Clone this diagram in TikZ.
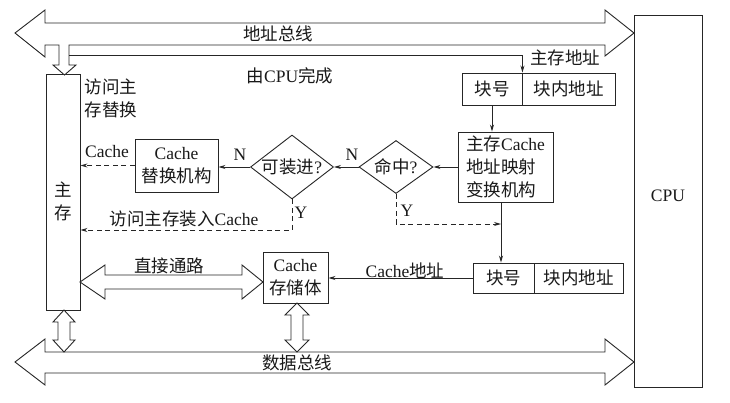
\documentclass[tikz,border=0pt]{standalone}
\usepackage{fontspec}
\setmainfont{Liberation Serif}
\newfontfamily\cjk{Noto Sans CJK SC}
\newcommand\zh[1]{{\cjk #1}}
\usetikzlibrary{arrows.meta,shapes.geometric}
\tikzset{
  ln/.style={line width=0.9pt, draw=black!85},
  box/.style={ln, rectangle, inner sep=0pt},
  dia/.style={ln, diamond, inner sep=0pt},
  txt/.style={font=\fontsize{17.5}{23}\selectfont, text=black!90, inner sep=0pt, align=center},
  arr/.style={ln, -{Stealth[length=7pt,width=4pt]}},
  dsh/.style={arr, dash pattern=on 5pt off 3.5pt},
  hollow/.style={ln, fill=white, line join=miter},
}
\begin{document}
\begin{tikzpicture}[x=1pt,y=-1pt]
\useasboundingbox (0,0) rectangle (730,402);
\fill[white] (0,0) rectangle (730,402);

% nodes
\node[box, minimum width=34pt, minimum height=236pt] (mem) at (63,192) {};
\node[txt] (memt) at (63,201) {\zh{主}\\\zh{存}};
\node[box, minimum width=68pt, minimum height=372pt] (cpu) at (668,201) {};
\node[txt] (cput) at (668,196) {CPU};

\node[box, txt, minimum width=60pt, minimum height=32pt] (blk1) at (492,89) {\zh{块号}};
\node[box, txt, minimum width=93pt, minimum height=32pt] (off1) at (568.5,89) {\zh{块内地址}};

\node[box, txt, minimum width=95pt, minimum height=70pt, align=left] (map) at (505.5,167)
  {\zh{主存}Cache\\\zh{地址映射}\\\zh{变换机构}};

\node[dia, minimum width=74pt, minimum height=53pt, aspect=1.4] (hit) at (396,167) {};
\node[txt] (hitt) at (396,167) {\zh{命中}?};
\node[dia, minimum width=83pt, minimum height=64pt, aspect=1.3] (fitd) at (292,167) {};
\node[txt] (fitt) at (292,167) {\zh{可装进}?};

\node[box, txt, minimum width=83pt, minimum height=53pt] (rep) at (176.5,165.5) {Cache\\\zh{替换机构}};
\node[box, txt, minimum width=65pt, minimum height=51pt] (cache) at (295.5,277.5) {Cache\\\zh{存储体}};

\node[box, txt, minimum width=61pt, minimum height=30pt] (blk2) at (503.5,278) {\zh{块号}};
\node[box, txt, minimum width=89pt, minimum height=30pt] (off2) at (578.5,278) {\zh{块内地址}};

% address bus (hollow, with branch down into main memory)
\draw[hollow] (45,23) -- (605,23) -- (605,10) -- (634,33) -- (605,56) -- (605,45)
  -- (69,45) -- (69,65) -- (76,65) -- (64.5,75) -- (53,65) -- (59,65) -- (59,45)
  -- (45,45) -- (45,57) -- (15,33) -- (45,10) -- cycle;
% data bus
\draw[hollow] (45,352) -- (605,352) -- (605,339) -- (634,362) -- (605,385) -- (605,373)
  -- (45,373) -- (45,385) -- (15,362) -- (45,339) -- cycle;
% memory <-> data bus
\draw[hollow] (58,322) -- (58,340) -- (53,340) -- (64,352) -- (75,340) -- (70,340)
  -- (70,322) -- (75,322) -- (64,310) -- (53,322) -- cycle;
% cache <-> data bus
\draw[hollow] (291,315) -- (291,340) -- (285,340) -- (297,352) -- (309,340) -- (303,340)
  -- (303,315) -- (309,315) -- (297,303) -- (285,315) -- cycle;
% direct path
\draw[hollow] (80,282) -- (105,265) -- (105,275) -- (242,275) -- (242,265) -- (263,282)
  -- (242,299) -- (242,289) -- (105,289) -- (105,299) -- cycle;

% connectors
\coordinate (a0) at (69,55);
\draw[arr] (a0) -- (blk1.north east |- a0) -- (blk1.north east);
\draw[arr] (blk1.south) -- (blk1.south |- map.north);
\draw[arr] (map.west) -- (hit.east);
\draw[arr] (hit.west) -- (fitd.east);
\draw[arr] (fitd.west) -- (rep.east |- fitd.west);
\draw[dsh] (rep.west) -- (mem.east |- rep.west);
\coordinate (fy) at (292,230);
\draw[dsh] (fitd.south) -- (fy) -- (mem.east |- fy);
\coordinate (mb) at (501,202);
\coordinate (hy) at (396,224);
\draw[dsh] (hit.south) -- (hy) -- (mb |- hy);
\draw[arr] (mb) -- (mb |- blk2.north);
\draw[arr] (blk2.west) -- (cache.east |- blk2.west);

% labels
\node[txt] (l1) at (278,34) {\zh{地址总线}};
\node[txt] (l2) at (290,76) {\zh{由}CPU\zh{完成}};
\node[txt] (l3) at (565,58) {\zh{主存地址}};
\node[txt, align=left] (l4) at (111,98) {\zh{访问主}\\\zh{存替换}};
\node[txt] (l5) at (107,152) {Cache};
\node[txt] (l6) at (184,219) {\zh{访问主存装入}Cache};
\node[txt] (n1) at (240,155) {N};
\node[txt] (n2) at (352,155) {N};
\node[txt] (y1) at (301,213) {Y};
\node[txt] (y2) at (407,211) {Y};
\node[txt] (l7) at (169,266) {\zh{直接通路}};
\node[txt] (l8) at (405,271) {Cache\zh{地址}};
\node[txt] (l9) at (297,363) {\zh{数据总线}};
\end{tikzpicture}
\end{document}
